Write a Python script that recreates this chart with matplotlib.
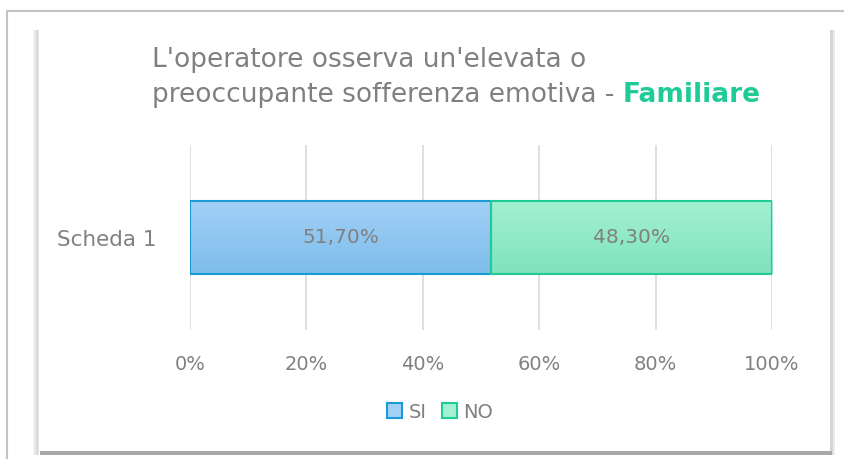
import numpy as np
import matplotlib.pyplot as plt
from matplotlib.patches import Rectangle
from matplotlib.lines import Line2D
from matplotlib.colors import LinearSegmentedColormap

categories = ['Scheda 1']
series = ['SI', 'NO']
values = [51.70, 48.30]
value_labels = ['51,70%', '48,30%']
ticks = [0, 20, 40, 60, 80, 100]
tick_labels = ['0%', '20%', '40%', '60%', '80%', '100%']

grey = '#808080'
edges = ['#1a9ad6', '#1fcc96']
tops = ['#a2d0f7', '#a3f0d2']
bottoms = ['#7dbdeb', '#7ee3bd']

plt.rcParams['font.family'] = ['DejaVu Sans']

fig = plt.figure(figsize=(8.45, 4.59), dpi=100)

# frame decorations (outer line + shadowed chart box), in pixel units
W, H = 845, 459

def fx(x):
    return x / W

def fy(y):
    return 1 - y / H

# outer top and left lines
fig.add_artist(Line2D([fx(7.5), fx(7.5)], [0.0, fy(10.5)],
                      color='#c3c3c3', lw=1.5, transform=fig.transFigure))
fig.add_artist(Line2D([fx(7.5), fx(844)], [fy(10.5), fy(10.5)],
                      color='#c3c3c3', lw=1.5, solid_capstyle='butt',
                      transform=fig.transFigure))

def prect(x, y, w, h, c):
    fig.add_artist(Rectangle((fx(x), fy(y + h)), w / W, h / H, color=c, lw=0,
                             transform=fig.transFigure))

# left soft shadow
for k, c in enumerate(['#f4f4f4', '#ececec', '#e4e4e4', '#dedede', '#dadada', '#e2e2e2']):
    prect(33 + k, 30, 1, 425, c)
# right shadow
prect(830, 30, 3, 425, '#d4d4d4')
prect(833, 30, 2, 425, '#ececec')
# bottom shadow
prect(40, 451, 792, 4, '#a8a8a8')

ax = fig.add_axes([fx(190), fy(330), (772 - 190) / W, (330 - 145) / H])
ax.set_xlim(0, 100)
ax.set_ylim(-0.5, 0.5)

bar_h = 73 / 185
left = 0
handles = []
for i, (name, v) in enumerate(zip(series, values)):
    b = ax.barh(0, v, left=left, height=bar_h, color='none',
                edgecolor=edges[i], lw=1.5, zorder=3, label=name)
    rect = b.patches[0]
    cmap = LinearSegmentedColormap.from_list('g', [bottoms[i], tops[i]])
    grad = np.linspace(0, 1, 100).reshape(-1, 1)
    im = ax.imshow(grad, cmap=cmap, aspect='auto', origin='lower',
                   extent=[left, left + v, -bar_h / 2, bar_h / 2], zorder=2)
    im.set_clip_path(rect)
    ax.text(left + v / 2, 0, value_labels[i], ha='center', va='center',
            color=grey, fontsize=14.5, zorder=4)
    handles.append(Rectangle((0, 0), 1, 1, facecolor=tops[i], edgecolor=edges[i], lw=1.5))
    left += v

ax.set_xticks(ticks)
ax.set_xticklabels(tick_labels, color=grey, fontsize=14)
ax.set_yticks([0])
ax.set_yticklabels(categories, color=grey, fontsize=15.5)
ax.tick_params(length=0, pad=18)
ax.tick_params(axis='y', pad=24)
ax.xaxis.grid(True, color='#d9d9d9', lw=1.2, zorder=0)
for s in ax.spines.values():
    s.set_visible(False)

fig.text(fx(152), fy(60), "L'operatore osserva un'elevata o",
         color=grey, fontsize=19, va='center', ha='left')
t = fig.text(fx(152), fy(95), "preoccupante sofferenza emotiva - ",
             color=grey, fontsize=19, va='center', ha='left')
fig.canvas.draw()
bb = t.get_window_extent()
fig.text(bb.x1 / W, fy(95), "Familiare", color='#1fcc96',
         fontsize=19, fontweight='bold', va='center', ha='left')

fig.legend(handles, series, loc='center', bbox_to_anchor=(fx(440), fy(412)),
           ncol=2, frameon=False, fontsize=14, labelcolor=grey,
           handlelength=0.8, handleheight=0.8, handletextpad=0.3, columnspacing=0.8)

fig.savefig('out.png', dpi=100)
